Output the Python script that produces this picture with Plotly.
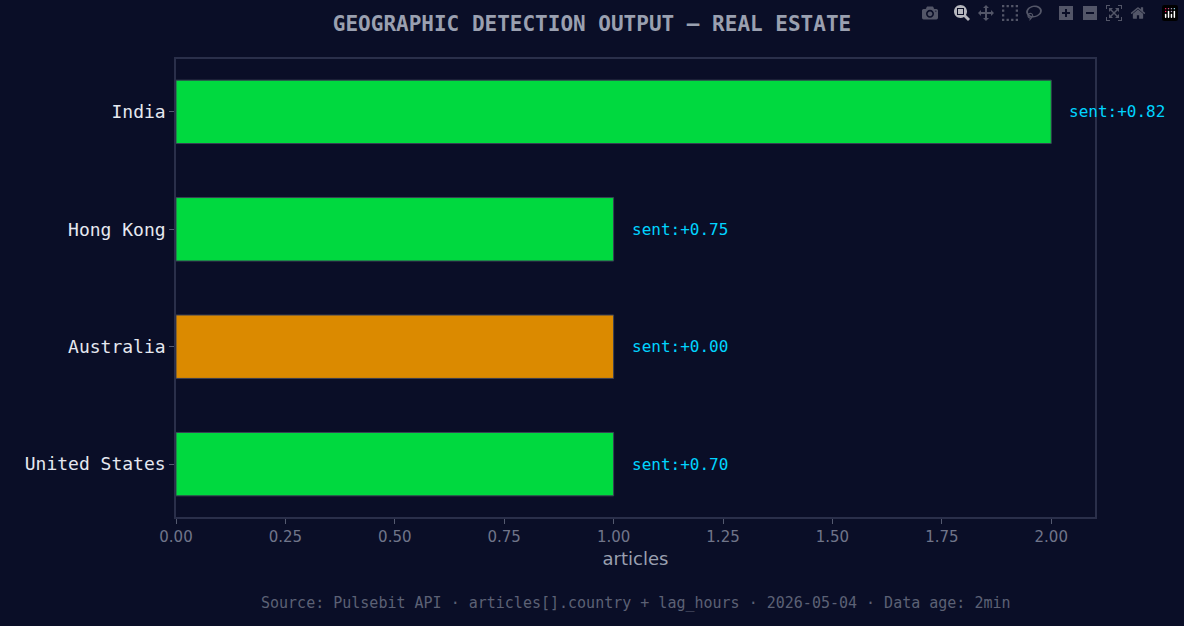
import plotly.graph_objects as go

countries = ["United States", "Australia", "Hong Kong", "India"]
articles = [1, 1, 1, 2]
sentiment = [0.70, 0.00, 0.75, 0.82]
colors = ["#00d93f", "#db8a00", "#00d93f", "#00d93f"]
labels = [f"sent:{s:+.2f}" for s in sentiment]

mono = "DejaVu Sans Mono"
fig = go.Figure()
fig.add_trace(go.Bar(
    y=countries, x=articles, orientation="h", width=0.54,
    marker=dict(color=colors, line=dict(color="#3a3f55", width=1)),
    hoverinfo="skip",
))
annotations = [dict(x=a, y=c, text=t, xref="x", yref="y", xanchor="left", yanchor="middle",
                    xshift=16, showarrow=False,
                    font=dict(family=mono, size=16, color="#00d4ff"))
               for c, a, t in zip(countries, articles, labels)]
annotations.append(dict(text="Source: Pulsebit API · articles[].country + lag_hours · 2026-05-04 · Data age: 2min",
                        xref="paper", yref="paper", x=0.5, y=-0.188, xanchor="center", yanchor="middle",
                        showarrow=False, font=dict(family=mono, size=15, color="#5c6175")))
fig.update_layout(
    width=1184, height=626,
    paper_bgcolor="#0a0e27", plot_bgcolor="#0a0e27",
    margin=dict(l=176, r=89, t=59, b=109),
    showlegend=False,
    title=dict(text="<b>GEOGRAPHIC DETECTION OUTPUT — REAL ESTATE</b>", x=0.5, xanchor="center",
               y=0.962, yanchor="middle", font=dict(family=mono, size=21, color="#9aa0b0")),
    xaxis=dict(range=[0, 2.1], tick0=0, dtick=0.25, tickformat=".2f",
               showgrid=False, zeroline=False, showline=True, mirror=True,
               linecolor="#2a2f4a", linewidth=1.5, ticks="outside", ticklen=5, tickcolor="#555a70",
               tickfont=dict(family="DejaVu Sans", size=15, color="#70758a"),
               title=dict(text="articles", font=dict(family="DejaVu Sans", size=18, color="#9aa0b0"), standoff=8)),
    yaxis=dict(range=[-0.45, 3.45], showgrid=False, zeroline=False, showline=True, mirror=True,
               linecolor="#2a2f4a", linewidth=1.5, ticks="outside", ticklen=5, tickcolor="#555a70",
               tickfont=dict(family=mono, size=18, color="#e6e8f0")),
    annotations=annotations,
)
fig.write_html("out.html", post_script="document.body.style.margin='0';document.body.style.background='#0a0e27';")
